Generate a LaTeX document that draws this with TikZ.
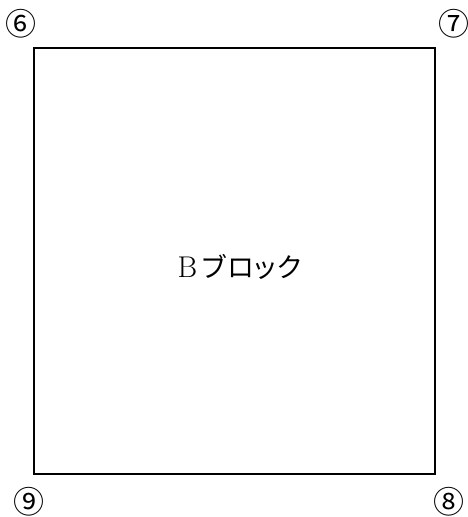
\documentclass[tikz,border=0pt]{standalone}
\usepackage{fontspec}
\newfontfamily\cjk{Noto Sans CJK JP}
\begin{document}
\begin{tikzpicture}[x=1pt,y=1pt,
  num/.style={inner sep=0pt,font=\cjk\fontsize{31}{31}\selectfont},
  blk/.style={draw,line width=1.6pt},
  lbl/.style={inner sep=0pt,font=\fontsize{30}{30}\selectfont}]
\useasboundingbox (0,0) rectangle (468,-517);
\node[blk,minimum width=401pt,minimum height=426pt,anchor=north west,inner sep=0pt] (b) at (33,-47) {};
\node[lbl] (t) at (239,-267) {\makebox[24pt]{B}\cjk\fontsize{27}{27}\selectfont\makebox[28pt]{ブ}\makebox[26pt]{ロ}\makebox[23pt]{ッ}\makebox[26pt]{ク}};
\node[num] (n6) at (21,-24) {⑥};
\node[num] (n7) at (454,-24) {⑦};
\node[num] (n9) at (29,-502) {⑨};
\node[num] (n8) at (449,-502) {⑧};
\end{tikzpicture}
\end{document}
